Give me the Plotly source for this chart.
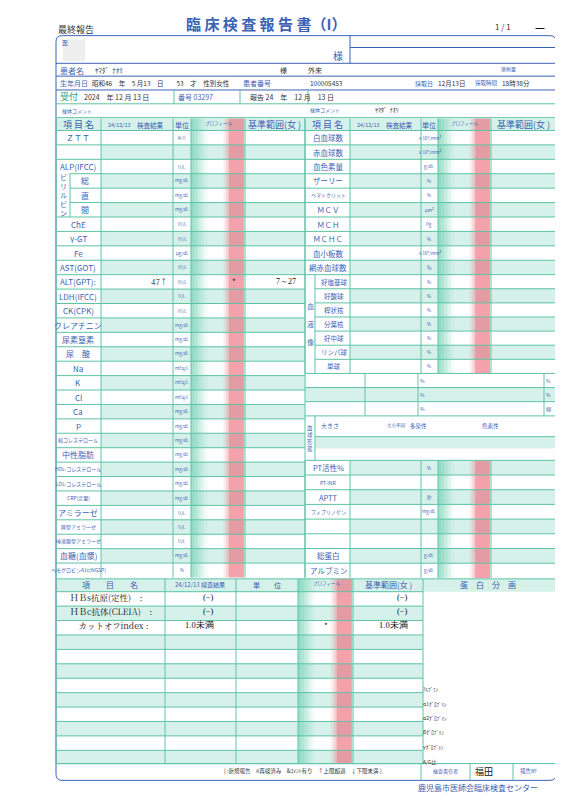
import plotly.graph_objects as go

left_items = ["ＺＴＴ", "", "ALP(IFCC)", "総", "直", "間", "ChE", "γ-GT", "Fe", "AST(GOT)", "ALT(GPT):",
              "LDH(IFCC)", "CK(CPK)", "クレアチニン", "尿素窒素", "尿　酸", "Na", "K", "Cl", "Ca", "P",
              "総コレステロール", "中性脂肪", "HDL-コレステロール", "LDL-コレステロール", "CRP(定量)", "アミラーゼ",
              "膵型アミラーゼ", "唾液腺型アミラーゼ", "血糖(血漿)", "ヘモグロビンA1c(NGSP)"]
left_units = ["K-U", "", "U/L", "mg/dL", "mg/dL", "mg/dL", "IU/L", "IU/L", "μg/dL", "IU/L", "IU/L",
              "U/L", "IU/L", "mg/dL", "mg/dL", "mg/dL", "mEq/L", "mEq/L", "mEq/L", "mg/dL", "mg/dL",
              "mg/dL", "mg/dL", "mg/dL", "mg/dL", "mg/dL", "U/L", "U/L", "U/L", "mg/dL", "%"]
left_results = {10: ("47↑", "*", "7～27")}

right_items = ["白血球数", "赤血球数", "血色素量", "ザーリー", "ヘマトクリット", "ＭＣＶ", "ＭＣＨ", "ＭＣＨＣ", "血小板数", "網赤血球数",
               "好塩基球", "好酸球", "桿状核", "分葉核", "好中球", "リンパ球", "単球"]
right_units = ["×10²/mm³", "×10⁴/mm³", "g/dL", "%", "%", "μm³", "Pg", "%", "×10⁴/mm³", "‰",
               "%", "%", "%", "%", "%", "%", "%"]
right_items2 = ["PT活性%", "PT-INR", "APTT", "フィブリノゲン", "", "", "総蛋白", "アルブミン"]
right_units2 = ["%", "", "秒", "mg/dL", "", "", "g/dL", "g/dL"]

bottom_items = ["ＨＢs抗原(定性)　:", "ＨＢc抗体(CLEIA)　:", "　カットオフindex :"]
bottom_results = ["(−)", "(−)", "1.0未満"]
bottom_flags = ["", "", "*"]
bottom_ranges = ["(−)", "(−)", "1.0未満"]
protein_fracs = ["ｱﾙﾌﾞﾐﾝ", "α1ｸﾞﾛﾌﾞﾘﾝ", "α2ｸﾞﾛﾌﾞﾘﾝ", "βｸﾞﾛﾌﾞﾘﾝ", "γｸﾞﾛﾌﾞﾘﾝ", "A/G比"]

BLUE = "#3d62b5"; TEAL = "#5cc4a6"; STRIPE = "#d6f1ea"; FONT = "Noto Sans CJK JP"
shapes, ann = [], []

def rect(x0, y0, x1, y1, fill=None, line=None, w=1):
    shapes.append(dict(type="rect", x0=x0, y0=y0, x1=x1, y1=y1, fillcolor=fill or "rgba(0,0,0,0)",
                       line=dict(color=line or "rgba(0,0,0,0)", width=w), layer="below"))

def hline(x0, x1, y, c=TEAL, w=1):
    shapes.append(dict(type="line", x0=x0, x1=x1, y0=y, y1=y, line=dict(color=c, width=w)))

def vline(x, y0, y1, c=TEAL, w=1):
    shapes.append(dict(type="line", x0=x, x1=x, y0=y0, y1=y1, line=dict(color=c, width=w)))

def text(x, y, s, size=8, color=BLUE, anchor="center", family=FONT):
    ann.append(dict(x=x, y=y, text=s, showarrow=False, xanchor=anchor, yanchor="middle",
                    font=dict(size=size, color=color, family=family)))

def bands(x0, x1, y0, y1):
    gw = (x1 - x0)
    for i, a in enumerate([0.6, 0.5, 0.35, 0.2, 0.08]):
        rect(x0 + i * gw * 0.06, y0, x0 + (i + 1) * gw * 0.06, y1, fill=f"rgba(100,205,170,{a})")
    for i, a in enumerate([0.12, 0.3]):
        rect(x0 + gw * (0.6 + i * 0.05), y0, x0 + gw * (0.65 + i * 0.05), y1, fill=f"rgba(235,100,115,{a})")
    rect(x0 + gw * 0.7, y0, x0 + gw * 0.98, y1, fill="rgba(235,100,115,0.6)")

# --- header ---
text(48, 22, "最終報告", 9, "#333", "left")
text(258, 16, "<b>臨 床 検 査 報 告 書（I）</b>", 15, BLUE)
text(495, 19, "1 / 1", 8, "#333")
text(532, 19, "<b>—</b>", 11, "#111")
shapes.append(dict(type="path", path="M 54 28 L 542 28 Q 548 28 548 34 L 548 776 Q 548 782 542 782 L 54 782 Q 48 782 48 776 L 48 34 Q 48 28 54 28 Z",
                   line=dict(color=BLUE, width=1)))
text(52, 35, "医", 6, BLUE, "left")
rect(55, 32, 77, 54, fill="#eeeeee")
text(330, 48, "様", 10, BLUE)
vline(342, 28, 56, BLUE); hline(342, 548, 40, BLUE)
hline(48, 548, 56, BLUE); hline(48, 548, 69, BLUE); hline(48, 548, 83, BLUE)
hline(48, 548, 97, TEAL); hline(48, 548, 111, TEAL)
text(50, 63, "患者名", 8, BLUE, "left"); text(85, 63, "ﾔﾏﾀﾞ  ﾅｵﾘ", 7, "#333", "left")
text(275, 63, "様", 7, "#333"); text(298, 63, "外来", 7, "#333", "left"); text(500, 62, "薬剤量", 5, BLUE)
text(50, 76, "生年月日", 7, BLUE, "left"); text(82, 76, "昭和46　年　5 月13　日　　53　才　性別女性", 6.5, "#333", "left")
text(233, 76, "患者番号", 7, BLUE, "left"); text(300, 76, "100005453", 6.5, "#333", "left")
text(405, 76, "採取日", 6, BLUE, "left"); text(428, 76, "12月13日", 6.5, "#333", "left")
text(465, 76, "採取時間", 5.5, BLUE, "left"); text(492, 76, "18時38分", 6.5, "#333", "left")
text(50, 90, "受付", 9, "#2aa37e", "left"); text(74, 90, "2024　年 12 月 13 日", 7, "#333", "left")
text(168, 90, "番号 03297", 7, BLUE, "left"); text(240, 90, "報告 24　年　12 月　13 日", 7, "#333", "left")
for x in [166, 232, 300]:
    vline(x, 83, 97, TEAL)
text(52, 104, "検体コメント", 5, BLUE, "left"); text(300, 103, "検体コメント", 5, BLUE, "left")
text(365, 103, "ﾔﾏﾀﾞ  ﾅｵﾘ", 6, "#333", "left")

# --- left table ---
LX = [48, 93, 165, 183, 237, 297]
top, hh, rh = 112, 12, 14.6
y0 = top + hh
rect(48, top, 297, y0, fill=STRIPE)
for i, lab in enumerate(left_items):
    ya = y0 + i * rh; yb = ya + rh
    if i % 2 == 1:
        rect(93, ya, 297, yb, fill=STRIPE)
    hline(48 if i < 3 or i > 5 else 62, 297, ya)
bands(183, 237, top, y0 + len(left_items) * rh)
for x in LX:
    vline(x, top, y0 + len(left_items) * rh)
vline(62, y0 + 3 * rh, y0 + 6 * rh)
text(70, top + 6, "項 目 名", 9, BLUE); text(111, top + 6, "24/12/13", 5.5, BLUE)
text(142, top + 6, "検査結果", 6.5, BLUE); text(174, top + 6, "単位", 7, BLUE)
text(210, top + 5, "プロフィール", 4.5, BLUE); text(266, top + 6, "基準範囲(女 )", 9, BLUE)
text(55, y0 + 4.5 * rh, "ビ<br>リ<br>ル<br>ビ<br>ン", 7, BLUE)
for i, lab in enumerate(left_items):
    yc = y0 + (i + 0.5) * rh
    small = len(lab) > 6 and not lab.isascii()
    text(77 if 3 <= i <= 5 else 70, yc, lab, 5 if small else 8, BLUE)
    text(174, yc, left_units[i], 4.5, BLUE)
    if i in left_results:
        r, f, rg = left_results[i]
        text(162, yc, r, 8, "#111", "right", "Noto Serif CJK JP, serif")
        text(226, yc, f, 8, "#111"); text(290, yc, rg, 8, "#111", "right", "serif")

# --- right table ---
RX = [297, 342, 413, 430, 483, 548]
ry = y0
rect(297, top, 548, ry, fill=STRIPE)
rows = []
h = (270 - ry) / 10
for i in range(10):
    rows.append((ry + i * h, ry + (i + 1) * h, right_items[i], right_units[i], 320))
h2 = (370 - 270) / 7
for i in range(7):
    rows.append((270 + i * h2, 270 + (i + 1) * h2, right_items[10 + i], right_units[10 + i], 326))
h3 = (577 - 458) / 8
for i in range(8):
    rows.append((458 + i * h3, 458 + (i + 1) * h3, right_items2[i], right_units2[i], 320))
for k, (a, b, lab, u, xc) in enumerate(rows):
    if k % 2 == 1:
        rect(342, a, 548, b, fill=STRIPE)
    hline(297 if not (10 < k < 17) else 307, 548, a)
    text(xc, (a + b) / 2, lab, 5 if len(lab) > 5 else (6.5 if 10 <= k < 17 else 7.5), BLUE)
    text(421, (a + b) / 2, u, 4.5, BLUE)
bands(430, 483, top, 370)
bands(430, 483, 458, 577)
for x in RX:
    vline(x, top, 370); vline(x, 458, 577)
vline(307, 270, 370)
text(302, 320, "血<br><br>液<br><br>像", 7, BLUE)
text(319, top + 6, "項 目 名", 9, BLUE); text(360, top + 6, "24/12/13", 5.5, BLUE)
text(391, top + 6, "検査結果", 6.5, BLUE); text(421, top + 6, "単位", 7, BLUE)
text(456, top + 5, "プロフィール", 4.5, BLUE); text(515, top + 6, "基準範囲(女 )", 9, BLUE)
for i in range(3):
    a = 370 + i * 14.3
    hline(297, 548, a)
    if i == 1:
        rect(297, a, 548, a + 14.3, fill=STRIPE)
    text(414, a + 7, "%", 5, BLUE); text(540, a + 7, "%" if i < 2 else "個", 5, BLUE)
vline(357, 370, 413); vline(410, 370, 413); vline(536, 370, 413)
hline(297, 548, 413); hline(307, 548, 434)
vline(307, 413, 458)
text(302, 436, "血<br>球<br>形<br>態", 5.5, BLUE)
text(322, 423, "大きさ", 6, BLUE); text(388, 423, "大小不同", 4.5, BLUE)
text(410, 423, "多染性", 5.5, BLUE); text(482, 423, "色素性", 5.5, BLUE)
rect(307, 434, 548, 446, fill=STRIPE)

# --- bottom ---
BX = [48, 157, 228, 290, 345, 415, 548]
bt, bh, brh = 578, 13, 14.6
rect(48, bt, 548, bt + bh, fill=STRIPE)
for i in range(12):
    a = bt + bh + i * brh
    if i % 2 == 1:
        rect(48, a, 415, a + brh, fill=STRIPE)
    hline(48, 415, a)
bands(290, 345, bt, 765)
for x in BX:
    vline(x, bt, 765)
hline(48, 548, bt); hline(48, 548, 765)
text(102, bt + 6, "項　　目　　名", 8, BLUE); text(192, bt + 6, "24/12/13 検査結果", 6, BLUE)
text(259, bt + 6, "単　　位", 7, BLUE); text(318, bt + 5, "プロフィール", 4.5, BLUE)
text(380, bt + 6, "基準範囲(女 )", 8, BLUE); text(480, bt + 6, "蛋　白　分　画", 8, BLUE)
for i, lab in enumerate(bottom_items):
    yc = bt + bh + 5 + i * brh
    text(60, yc, lab, 8.5, "#111", "left", "Noto Serif CJK JP, serif")
    text(208, yc, bottom_results[i], 8.5, "#111", "right", "serif")
    text(318, yc, bottom_flags[i], 8, "#111")
    text(402, yc, bottom_ranges[i], 8.5, "#111", "right", "serif")
for i, p in enumerate(protein_fracs):
    text(413, 690 + i * 14.5, p, 5, "#333", "left")
text(295, 773, "[ :新規報告　#再検済み　&ｺﾒﾝﾄ有り　↑上限超過　↓下限未満 ]", 5.5, "#333")
vline(413, 765, 782); vline(462, 765, 782); vline(505, 765, 782)
text(437, 773, "検査責任者", 5, BLUE); text(476, 773, "福田", 9, "#111")
text(520, 773, "報告№", 5.5, BLUE)
text(470, 789, "鹿児島市医師会臨床検査センター", 8, BLUE)

fig = go.Figure()
fig.update_layout(width=563, height=800, margin=dict(l=0, r=0, t=0, b=0),
                  paper_bgcolor="white", plot_bgcolor="white", shapes=shapes, annotations=ann,
                  xaxis=dict(range=[0, 563], visible=False, fixedrange=True),
                  yaxis=dict(range=[810, 0], visible=False, fixedrange=True), showlegend=False)
fig.write_html("out.html", config={"displayModeBar": False})
